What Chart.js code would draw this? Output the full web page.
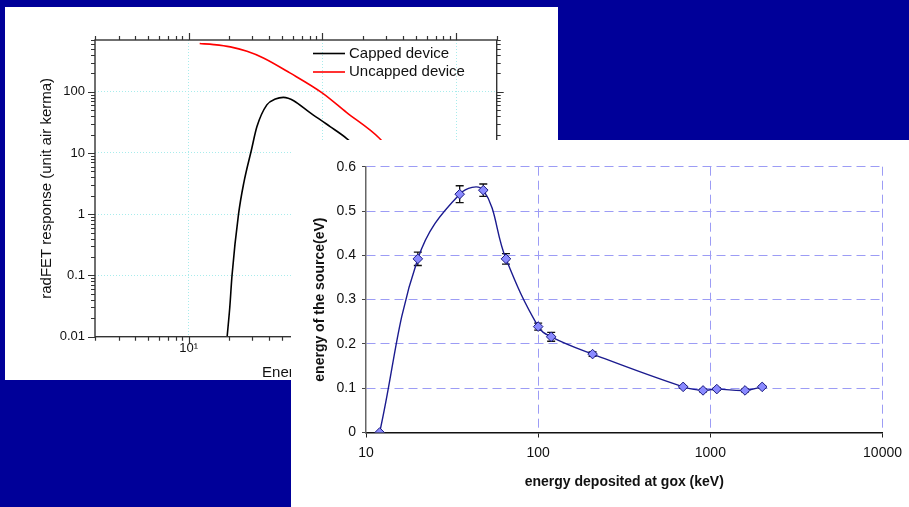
<!DOCTYPE html>
<html>
<head>
<meta charset="utf-8">
<script src="https://cdn.jsdelivr.net/npm/chart.js@4"></script>
<style>
  html, body { margin: 0; padding: 0; }
  body { width: 909px; height: 507px; background: #000099; position: relative; overflow: hidden; }
  .panel { position: absolute; background: #fff; }
  #p1 { left: 5px; top: 7px; width: 553px; height: 373px; }
  #p2 { left: 291px; top: 140px; width: 618px; height: 367px; }
  canvas { display: block; }
</style>
</head>
<body>
<div class="panel" id="p1"><canvas id="radfetChart" width="553" height="373"></canvas></div>
<div class="panel" id="p2"><canvas id="goxChart" width="618" height="367"></canvas></div>
<script>
Chart.defaults.font.family = '"Liberation Sans", Arial, sans-serif';
Chart.defaults.color = '#111';

// --- left (background) chart: radFET response vs energy ---
const cappedEnergy = [19.4, 20.3, 21.1, 23.6, 25.8, 29.4, 32.4, 38.4, 44.5, 51, 85, 114, 151, 210];
const cappedResp   = [0.01, 0.03, 0.1, 1, 3.2, 11, 27, 61, 76, 81, 42, 27, 17.4, 9];
const uncappedEnergy = [12.1, 15.4, 20.5, 27.3, 36.2, 57.1, 100, 151, 266, 400];
const uncappedResp   = [612, 589, 541, 458, 357, 203, 95, 46, 17.4, 6];
const leftXTitle = 'Energy (keV)';

// --- right (front) chart: source energy vs deposited energy ---
const goxEnergy = [12, 20, 35, 48, 65, 100, 119, 207, 695, 907, 1090, 1590, 2000];
const goxSource = [0, 0.392, 0.538, 0.547, 0.392, 0.239, 0.216, 0.177, 0.103, 0.095, 0.098, 0.095, 0.103];
const goxError  = [0, 0.015, 0.019, 0.014, 0.012, 0.008, 0.01, 0.005, 0.003, 0.003, 0.003, 0.003, 0.003];
const goxXTicks = [10, 100, 1000, 10000];

const supers = {'0': '\u2070', '1': '\u00B9', '2': '\u00B2', '3': '\u00B3'};

function isPow10(v) {
  const l = Math.log10(v);
  return Math.abs(l - Math.round(l)) < 1e-9;
}

function logTicks(lo, hi, e0, e1) {
  const out = [];
  for (let e = e0; e <= e1; e++) {
    for (let m = 1; m <= 9; m++) {
      const v = Number((m * Math.pow(10, e)).toPrecision(6));
      if (v >= lo && v <= hi) out.push(v);
    }
  }
  if (out[out.length - 1] < hi) out.push(hi);
  return out;
}

const leftXTicks = logTicks(2, 2000, 0, 3);
const leftYTicks = logTicks(0.01, 700, -2, 2);

// frame with outward ticks on all four sides, line legend and x title
const frameTicks = {
  id: 'frameTicks',
  afterDraw(chart) {
    const {ctx, chartArea: a, scales: {x, y}} = chart;
    ctx.save();
    ctx.strokeStyle = '#333';
    ctx.lineWidth = 1.2;
    ctx.beginPath();
    x.ticks.forEach(t => {
      const px = Math.round(x.getPixelForValue(t.value)) + 0.5;
      const len = isPow10(t.value) ? 7 : 4;
      ctx.moveTo(px, a.bottom); ctx.lineTo(px, a.bottom + len);
      ctx.moveTo(px, a.top); ctx.lineTo(px, a.top - len);
    });
    y.ticks.forEach(t => {
      const py = Math.round(y.getPixelForValue(t.value)) + 0.5;
      const len = isPow10(t.value) ? 7 : 4;
      ctx.moveTo(a.left, py); ctx.lineTo(a.left - len, py);
      ctx.moveTo(a.right, py); ctx.lineTo(a.right + len, py);
    });
    ctx.stroke();
    ctx.lineWidth = 1.4;
    ctx.strokeRect(a.left, a.top, a.right - a.left, a.bottom - a.top);

    ctx.font = '15px "Liberation Sans", Arial, sans-serif';
    ctx.fillStyle = '#111';
    ctx.textBaseline = 'middle';

    // x axis title (sits a little right of the plot centre in the source)
    ctx.textAlign = 'center';
    ctx.fillText(leftXTitle, (a.left + a.right) / 2 + 10, a.bottom + 36);

    // legend
    ctx.textAlign = 'left';
    chart.data.datasets.forEach((ds, i) => {
      const yy = a.top + 13.5 + i * 18.5;
      ctx.strokeStyle = ds.borderColor;
      ctx.lineWidth = 1.6;
      ctx.beginPath();
      ctx.moveTo(a.left + 218, yy);
      ctx.lineTo(a.left + 250, yy);
      ctx.stroke();
      ctx.fillText(ds.label, a.left + 254, yy);
    });
    ctx.restore();
  }
};

new Chart(document.getElementById('radfetChart'), {
  type: 'line',
  data: {
    datasets: [{
      label: 'Capped device',
      data: cappedEnergy.map((e, i) => ({x: e, y: cappedResp[i]})),
      borderColor: '#000',
      borderWidth: 1.6,
      pointRadius: 0,
      cubicInterpolationMode: 'monotone'
    }, {
      label: 'Uncapped device',
      data: uncappedEnergy.map((e, i) => ({x: e, y: uncappedResp[i]})),
      borderColor: '#ff0000',
      borderWidth: 1.6,
      pointRadius: 0,
      cubicInterpolationMode: 'monotone'
    }]
  },
  options: {
    responsive: false,
    animation: false,
    layout: { padding: { left: 0, top: 33, right: 61.3, bottom: 0 } },
    plugins: { legend: { display: false }, tooltip: { enabled: false } },
    scales: {
      x: {
        type: 'logarithmic',
        min: 2,
        max: 2000,
        afterBuildTicks: s => { s.ticks = leftXTicks.map(v => ({value: v})); },
        afterFit: s => { s.height = 43.3; },
        grid: {
          drawTicks: false,
          color: c => (c.tick && isPow10(c.tick.value)) ? '#a8ecec' : 'rgba(0,0,0,0)'
        },
        border: { display: false, dash: [1, 2] },
        ticks: {
          autoSkip: false,
          maxRotation: 0,
          padding: 3.5,
          font: { size: 13 },
          callback: v => isPow10(v) ? '10' + String(Math.round(Math.log10(v))).split('').map(d => supers[d]).join('') : ''
        }
      },
      y: {
        type: 'logarithmic',
        min: 0.01,
        max: 700,
        afterBuildTicks: s => { s.ticks = leftYTicks.map(v => ({value: v})); },
        afterFit: s => { s.width = 90; },
        grid: {
          drawTicks: false,
          color: c => (c.tick && isPow10(c.tick.value) && c.tick.value > 0.01) ? '#a8ecec' : 'rgba(0,0,0,0)'
        },
        border: { display: false, dash: [1, 2] },
        ticks: {
          autoSkip: false,
          padding: 10,
          font: { size: 13 },
          callback: v => isPow10(v) ? String(v) : ''
        },
        title: {
          display: true,
          text: 'radFET response (unit air kerma)',
          font: { size: 15 },
          padding: { top: 33, bottom: 0 }
        }
      }
    }
  },
  plugins: [frameTicks]
});

// error bars drawn under the markers
const errorBars = {
  id: 'errorBars',
  beforeDatasetsDraw(chart) {
    const {ctx, scales: {x, y}} = chart;
    ctx.save();
    ctx.strokeStyle = '#111';
    ctx.lineWidth = 1.3;
    ctx.beginPath();
    goxEnergy.forEach((e, i) => {
      if (!goxError[i]) return;
      const px = x.getPixelForValue(e);
      const top = y.getPixelForValue(goxSource[i] + goxError[i]);
      const bot = y.getPixelForValue(goxSource[i] - goxError[i]);
      ctx.moveTo(px, top); ctx.lineTo(px, bot);
      ctx.moveTo(px - 4, top); ctx.lineTo(px + 4, top);
      ctx.moveTo(px - 4, bot); ctx.lineTo(px + 4, bot);
    });
    ctx.stroke();
    ctx.restore();
  }
};

new Chart(document.getElementById('goxChart'), {
  type: 'line',
  data: {
    datasets: [{
      label: 'source energy',
      data: goxEnergy.map((e, i) => ({x: e, y: goxSource[i]})),
      borderColor: '#1b1b8f',
      borderWidth: 1.4,
      tension: 0.4,
      pointStyle: 'rectRot',
      pointRadius: 4.8,
      pointBackgroundColor: '#8a8aff',
      pointBorderColor: '#1a1a80',
      pointBorderWidth: 1
    }]
  },
  options: {
    responsive: false,
    animation: false,
    layout: { padding: { left: 0, top: 26.7, right: 25, bottom: 0 } },
    plugins: { legend: { display: false }, tooltip: { enabled: false } },
    scales: {
      x: {
        type: 'logarithmic',
        min: 10,
        max: 10000,
        afterBuildTicks: s => { s.ticks = goxXTicks.map(v => ({value: v})); },
        afterFit: s => { s.height = 74.5; },
        grid: {
          color: c => (c.tick && c.tick.value === 10) ? 'rgba(0,0,0,0)' : '#9c9cf5',
          tickColor: '#222',
          tickLength: 5
        },
        border: { color: '#111', width: 1.5, dash: [9, 5] },
        ticks: {
          autoSkip: false,
          maxRotation: 0,
          padding: 7,
          font: { size: 14 },
          callback: v => String(v)
        },
        title: {
          display: true,
          text: 'energy deposited at gox (keV)',
          font: { size: 14, weight: 'bold' },
          padding: { top: 0, bottom: 16.9 }
        }
      },
      y: {
        min: 0,
        max: 0.6,
        afterFit: s => { s.width = 75; },
        ticks: { stepSize: 0.1, padding: 6, font: { size: 14 } },
        grid: {
          color: c => (c.tick && c.tick.value === 0) ? 'rgba(0,0,0,0)' : '#9c9cf5',
          tickColor: '#444',
          tickLength: 4
        },
        border: { color: '#666', width: 1.5, dash: [9, 5] },
        title: {
          display: true,
          text: 'energy of the source(eV)',
          font: { size: 14, weight: 'bold' },
          padding: { top: 20.6, bottom: 0 }
        }
      }
    }
  },
  plugins: [errorBars]
});
</script>
</body>
</html>
